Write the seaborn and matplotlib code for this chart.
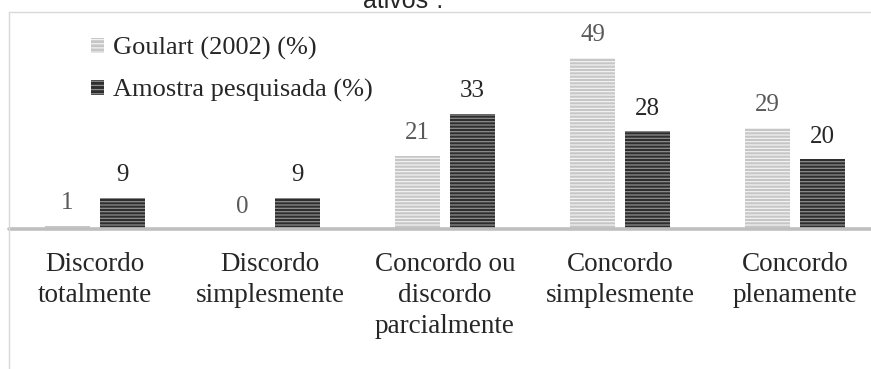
import matplotlib
matplotlib.use("Agg")
import matplotlib.pyplot as plt
from matplotlib.lines import Line2D
from matplotlib.patches import Patch
import seaborn as sns
import pandas as pd

categories = ["Discordo\ntotalmente", "Discordo\nsimplesmente",
              "Concordo ou\ndiscordo\nparcialmente", "Concordo\nsimplesmente",
              "Concordo\nplenamente"]
series_names = ["Goulart (2002) (%)", "Amostra pesquisada (%)"]
goulart = [1, 0, 21, 49, 29]
amostra = [9, 9, 33, 28, 20]

df = pd.DataFrame({
    "cat": categories * 2,
    "val": goulart + amostra,
    "serie": [series_names[0]] * 5 + [series_names[1]] * 5,
})

sns.set_theme(style="white")
plt.rcParams["font.family"] = ["Liberation Serif", "DejaVu Serif"]
plt.rcParams["hatch.linewidth"] = 0.9

W, H = 871, 369
fig = plt.figure(figsize=(W / 100, H / 100), dpi=100)
fig.patch.set_facecolor("white")

left_px, top_px, base_px = 9, 12, 229
ax = fig.add_axes([left_px / W, (H - base_px) / H, (W - left_px) / W, (base_px - top_px) / H])

face = ["#c6c6c6", "#2e2e2e"]
hatchc = ["#f2f2f2", "#8c8c8c"]
lblc = ["#595959", "#262626"]

sns.barplot(data=df, x="cat", y="val", hue="serie", hue_order=series_names,
            order=categories, palette=face, width=0.629, gap=0.18, ax=ax,
            legend=False, saturation=1)

for i, cont in enumerate(ax.containers):
    for bar in cont:
        bar.set_facecolor(face[i])
        bar.set_edgecolor(hatchc[i])
        bar.set_hatch("-----")
        bar.set_linewidth(0)
    ax.bar_label(cont, labels=[f"{v:g}" for v in cont.datavalues], padding=8,
                 fontsize=18, color=lblc[i], family=["Liberation Serif"])

px_per_unit = 3.5
ax.set_ylim(0, (base_px - top_px) / px_per_unit)
ax.set_xlim((left_px - 95) / 175, (W - 95) / 175)
ax.set_xlabel("")
ax.set_ylabel("")
ax.set_yticks([])
for s in ["left", "right", "bottom"]:
    ax.spines[s].set_visible(False)
ax.spines["top"].set_color("#d9d9d9")
ax.spines["top"].set_linewidth(1)
ax.axhline(0, color="#bfbfbf", lw=2.6, clip_on=False, zorder=5)
ax.tick_params(axis="x", length=0, pad=16.5, labelsize=19.5, labelcolor="#262626")
for t in ax.get_xticklabels():
    t.set_linespacing(1.32)

fig.add_artist(Line2D([left_px / W, left_px / W], [0, (H - top_px) / H],
                      color="#d9d9d9", lw=1))

handles = [Patch(facecolor=face[i], edgecolor=hatchc[i], hatch="----", linewidth=0)
           for i in range(2)]
fig.legend(handles, series_names, loc="upper left",
           bbox_to_anchor=(91 / W, 1 - 37 / H), frameon=False, borderpad=0,
           borderaxespad=0, fontsize=19, handlelength=0.5, handleheight=0.5,
           handletextpad=0.35, labelspacing=0.72, labelcolor="#262626")

fig.text(363 / W, 1 - 8 / H, "ativos\u201d.", family=["Liberation Sans"],
         fontsize=18, color="#262626", va="baseline", ha="left")

fig.savefig("out.png", dpi=100, facecolor="white")
